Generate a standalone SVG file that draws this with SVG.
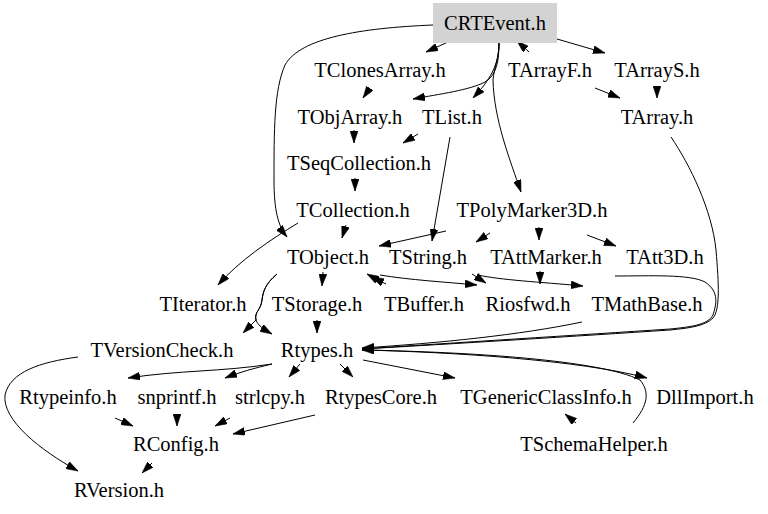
<svg xmlns="http://www.w3.org/2000/svg" width="768" height="514" viewBox="0 0 768 514">
<style>
text{font-family:"Liberation Serif","Times New Roman",serif;font-size:20.5px;fill:#000;text-anchor:middle}
.e path{fill:none;stroke:#000;stroke-width:1;marker-end:url(#ah)}
</style>
<defs>
<marker id="ah" viewBox="0 0 12 8" refX="12" refY="4" markerWidth="12" markerHeight="8" markerUnits="userSpaceOnUse" orient="auto">
<path d="M0,0 L12,4 L0,8 z" fill="#000" stroke="#000" stroke-width="0.5"/>
</marker>
</defs>
<rect width="768" height="514" fill="#fff"/>
<g class="e" id="connectors">
<path d="M448,42 L426,52"/>
<path d="M529,52 L517,41"/>
<path d="M557,39 L605,53"/>
<path d="M433,25 C360,28 300,38 285,65 C274,90 274,130 274,180 C274,210 278,226 287,237"/>
<path d="M499,43 C499,60 497,75 485,82 C470,90 440,94 413,99"/>
<path d="M499,43 C499,65 490,80 473,98"/>
<path d="M499,43 C499,58 494,68 493,80 C494,120 510,160 521,192"/>
<path d="M370,88 L363,98"/>
<path d="M595,88 L620,98"/>
<path d="M657,86 L657,98"/>
<path d="M354,130 L354,143"/>
<path d="M418,134 L403,143"/>
<path d="M450,137 L432,241"/>
<path d="M355,178 L355,191"/>
<path d="M346,225 L342,238"/>
<path d="M298,223 C270,240 240,260 218,285"/>
<path d="M446,231 L379,246"/>
<path d="M490,233 L476,242"/>
<path d="M539,227 L539,240"/>
<path d="M587,235 L616,246"/>
<path d="M323,272 L322,286"/>
<path d="M277,274 C265,284 263,292 262,300 C261,310 254,312 256,320 C258,326 265,330 272,334"/>
<path d="M277,274 C265,284 263,292 262,300 C261,310 254,312 256,320 L243,333"/>
<path d="M383,283 L367,274"/>
<path d="M386,284 L372,277"/>
<path d="M380,275 C410,280 445,282 477,285"/>
<path d="M472,274 L486,283"/>
<path d="M478,275 C500,280 540,282 583,286"/>
<path d="M540,271 L540,284"/>
<path d="M615,276 C650,276 690,274 705,282 C720,292 716,305 713,315 C708,325 690,327 670,329 C580,335 450,343 362,349"/>
<path d="M671,137 C690,165 712,210 716,250 C719,285 720,310 713,318 C705,326 690,328 670,330 C580,336 450,344 362,349"/>
<path d="M582,322 C520,335 440,343 362,348"/>
<path d="M317,320 L317,333"/>
<path d="M272,364 C220,372 180,370 128,378"/>
<path d="M272,364 C255,368 240,372 225,378"/>
<path d="M300,364 L289,377"/>
<path d="M340,364 L353,377"/>
<path d="M363,360 L455,378"/>
<path d="M362,350 C450,352 580,360 647,378"/>
<path d="M633,423 C648,405 650,392 640,380 C600,360 470,352 362,350"/>
<path d="M576,423 L565,414"/>
<path d="M115,418 L133,426"/>
<path d="M177,414 L177,426"/>
<path d="M230,418 L215,426"/>
<path d="M315,415 L233,434"/>
<path d="M152,463 L142,473"/>
<path d="M78,357 C40,362 10,372 5,395 C2,420 40,450 78,471"/>
</g>
<g id="CRTEvent"><rect x="433" y="3" width="124" height="40" fill="#d3d3d3"/><text x="495" y="30">CRTEvent.h</text></g>
<g id="TClonesArray"><text x="380" y="77">TClonesArray.h</text></g>
<g id="TArrayF"><text x="550" y="77">TArrayF.h</text></g>
<g id="TArrayS"><text x="657" y="77">TArrayS.h</text></g>
<g id="TObjArray"><text x="350" y="124">TObjArray.h</text></g>
<g id="TList"><text x="452" y="124">TList.h</text></g>
<g id="TArray"><text x="657" y="124">TArray.h</text></g>
<g id="TSeqCollection"><text x="359" y="170">TSeqCollection.h</text></g>
<g id="TCollection"><text x="353" y="217">TCollection.h</text></g>
<g id="TPolyMarker3D"><text x="532" y="217">TPolyMarker3D.h</text></g>
<g id="TObject"><text x="328" y="264">TObject.h</text></g>
<g id="TString"><text x="428" y="264">TString.h</text></g>
<g id="TAttMarker"><text x="546" y="264">TAttMarker.h</text></g>
<g id="TAtt3D"><text x="665" y="264">TAtt3D.h</text></g>
<g id="TIterator"><text x="203" y="311">TIterator.h</text></g>
<g id="TStorage"><text x="317" y="311">TStorage.h</text></g>
<g id="TBuffer"><text x="424" y="311">TBuffer.h</text></g>
<g id="Riosfwd"><text x="528" y="311">Riosfwd.h</text></g>
<g id="TMathBase"><text x="647" y="311">TMathBase.h</text></g>
<g id="TVersionCheck"><text x="162" y="357">TVersionCheck.h</text></g>
<g id="Rtypes"><text x="317" y="357">Rtypes.h</text></g>
<g id="Rtypeinfo"><text x="68" y="404">Rtypeinfo.h</text></g>
<g id="snprintf"><text x="177" y="404">snprintf.h</text></g>
<g id="strlcpy"><text x="270" y="404">strlcpy.h</text></g>
<g id="RtypesCore"><text x="381" y="404">RtypesCore.h</text></g>
<g id="TGenericClassInfo"><text x="546" y="404">TGenericClassInfo.h</text></g>
<g id="DllImport"><text x="705" y="404">DllImport.h</text></g>
<g id="RConfig"><text x="176" y="451">RConfig.h</text></g>
<g id="TSchemaHelper"><text x="594" y="451">TSchemaHelper.h</text></g>
<g id="RVersion"><text x="119" y="497">RVersion.h</text></g>
</svg>
